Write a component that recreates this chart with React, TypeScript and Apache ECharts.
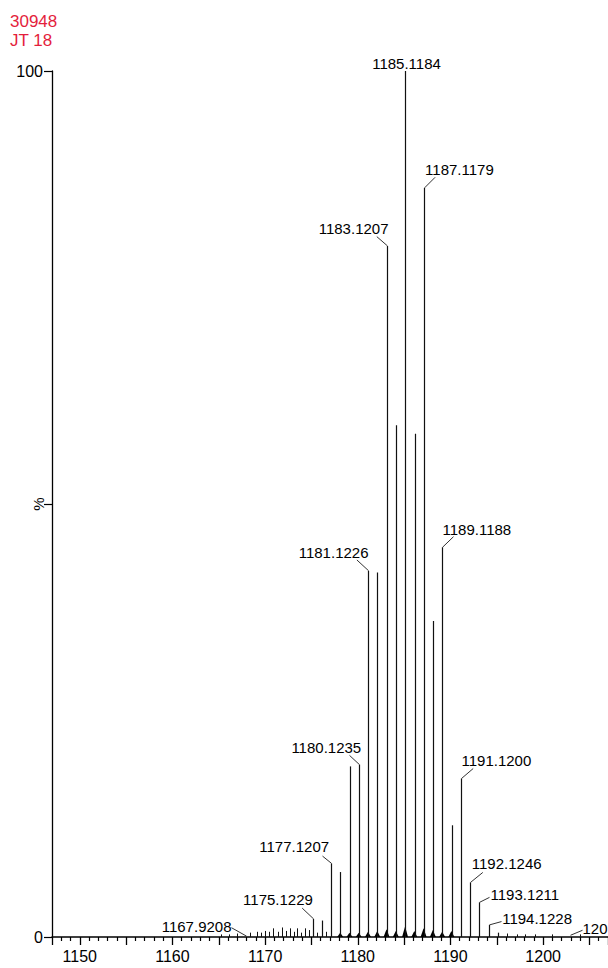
import React, { useEffect, useRef } from 'react';
import * as echarts from 'echarts';

// ---------- data ----------
const titleLines = ['30948', 'JT 18'];
const yAxisName = '%';

const peakMz = [
  1175.1229, 1176.1215, 1177.1207, 1178.1218, 1179.123, 1180.1235, 1181.1226, 1182.122,
  1183.1207, 1184.1201, 1185.1184, 1186.119, 1187.1179, 1188.1195, 1189.1188, 1190.1205,
  1191.12, 1192.1246, 1193.1211, 1194.1228, 1195.123,
];
const peakIntensity = [
  2.1, 1.9, 8.5, 7.5, 19.7, 19.9, 42.3, 42.1,
  79.8, 59.1, 100, 58.1, 86.5, 36.5, 45.0, 12.9,
  18.3, 6.3, 4.0, 1.4, 0.5,
];

// labelled peaks
const labelMz = [
  1167.9208, 1175.1229, 1177.1207, 1180.1235, 1181.1226, 1183.1207, 1185.1184,
  1187.1179, 1189.1188, 1191.12, 1192.1246, 1193.1211, 1194.1228, 1202.93,
];
const labelIntensity = [0.1, 2.1, 8.5, 19.9, 42.3, 79.8, 100, 86.5, 45.0, 18.3, 6.3, 4.0, 1.4, 0.2];
const labelText = [
  '1167.9208', '1175.1229', '1177.1207', '1180.1235', '1181.1226', '1183.1207', '1185.1184',
  '1187.1179', '1189.1188', '1191.1200', '1192.1246', '1193.1211', '1194.1228', '120',
];

// small noise sticks along the baseline
const noiseMz = [
  1165.2, 1166.1, 1167.0, 1168.4, 1169.1, 1169.5, 1170.0, 1170.4, 1170.9, 1171.4, 1171.8,
  1172.2, 1172.7, 1173.1, 1173.4, 1173.9, 1174.3, 1174.7, 1175.6, 1176.6, 1196.1, 1197.2,
  1198.0, 1199.1, 1201.0, 1204.0,
];
const noiseIntensity = [
  0.3, 0.3, 0.4, 0.5, 0.6, 0.5, 0.7, 0.6, 1.0, 0.6, 1.1,
  0.7, 1.0, 0.6, 1.0, 0.5, 1.0, 0.8, 0.5, 0.6, 0.4, 0.3,
  0.3, 0.3, 0.3, 0.3,
];

// small humps at the base of the main peaks
const bumpMz = [1178.1, 1179.1, 1180.1, 1181.1, 1182.1, 1183.1, 1184.1, 1185.1, 1186.1, 1187.1, 1188.1, 1189.1, 1190.1];
const bumpIntensity = [0.5, 0.5, 0.5, 0.6, 0.7, 0.9, 0.7, 1.2, 0.7, 1.0, 0.8, 0.6, 0.7];

const xMin = 1147;
const xMax = 1207;

// ---------- label layout (pixel offsets from peak top) ----------
type Layout = { lead: [number, number] | null; anchor: [number, number]; align: 'left' | 'right' | 'center' };
const labelLayout: Record<string, Layout> = {
  '1167.9208': { lead: [-15, -8.4], anchor: [-15, -9.4], align: 'right' },
  '1175.1229': { lead: [-11.3, -10.7], anchor: [-0.6, -19], align: 'right' },
  '1177.1207': { lead: [-9, -7.3], anchor: [-2.4, -16.6], align: 'right' },
  '1180.1235': { lead: [-10, -9.3], anchor: [1.7, -17.6], align: 'right' },
  '1181.1226': { lead: [-11.6, -10.7], anchor: [0, -18.2], align: 'right' },
  '1183.1207': { lead: [-10.7, -9.3], anchor: [1, -17.7], align: 'right' },
  '1185.1184': { lead: null, anchor: [1, -8], align: 'center' },
  '1187.1179': { lead: [10.6, -10.6], anchor: [0.6, -18.3], align: 'left' },
  '1189.1188': { lead: [11, -10.6], anchor: [0, -18.3], align: 'left' },
  '1191.1200': { lead: [11.7, -10], anchor: [0, -17.6], align: 'left' },
  '1192.1246': { lead: [12.3, -10], anchor: [1.3, -18.7], align: 'left' },
  '1193.1211': { lead: [10, -5], anchor: [11, -8.3], align: 'left' },
  '1194.1228': { lead: [12, -3.3], anchor: [12.7, -6.7], align: 'left' },
  '120': { lead: [12, -5], anchor: [12, -6.7], align: 'left' },
};

const FONT = '"Liberation Sans", Arial, Helvetica, sans-serif';
const RED = '#e41e3c';

export default function App() {
  const ref = useRef<HTMLDivElement>(null);

  useEffect(() => {
    const chart = echarts.init(ref.current!, null, { renderer: 'svg' });

    const option: any = {
      animation: false,
      backgroundColor: '#fff',
      grid: { left: 52, right: 0, top: 71, bottom: 31, containLabel: false, outerBoundsMode: 'none' },
      graphic: [
        ...titleLines.map((t, i) => ({
          type: 'text',
          left: 10,
          top: 13 + i * 19,
          style: { text: t, fill: RED, font: `17px ${FONT}` },
        })),
        {
          type: 'text',
          x: 38,
          y: 504,
          rotation: Math.PI / 2,
          style: { text: yAxisName, fill: '#000', font: `15px ${FONT}`, align: 'center', verticalAlign: 'middle' },
        },
      ],
      xAxis: {
        type: 'value',
        min: xMin,
        max: xMax,
        splitNumber: 12,
        minInterval: 5,
        maxInterval: 5,
        axisLine: { show: true, onZero: false, lineStyle: { color: '#000', width: 1.5 } },
        axisTick: { show: true, length: 8, lineStyle: { color: '#000', width: 1.3 } },
        minorTick: { show: true, splitNumber: 5, length: 4, lineStyle: { color: '#000', width: 1.2 } },
        axisLabel: {
          formatter: (v: number) => (Math.abs(v % 10) < 1e-6 ? String(v) : ''),
          fontSize: 16,
          color: '#000',
          fontFamily: FONT,
          margin: 11,
          showMinLabel: false,
          showMaxLabel: false,
        },
        splitLine: { show: false },
        minorSplitLine: { show: false },
      },
      yAxis: {
        type: 'value',
        min: 0,
        max: 100,
        interval: 50,
        axisLine: { show: true, lineStyle: { color: '#000', width: 1.3 } },
        axisTick: { show: true, length: 8, lineStyle: { color: '#000', width: 1.2 } },
        axisLabel: {
          formatter: (v: number) => (v === 50 ? '' : String(v)),
          fontSize: 16,
          color: '#000',
          fontFamily: FONT,
          margin: 9,
        },
        splitLine: { show: false },
      },
      series: [
        {
          type: 'custom',
          name: 'bumps',
          data: bumpMz.map((m, i) => [m, bumpIntensity[i]]),
          renderItem: (params: any, api: any) => {
            const top = api.coord([api.value(0), api.value(1)]);
            const base = api.coord([api.value(0), 0]);
            return {
              type: 'polygon',
              shape: { points: [[base[0] - 3, base[1]], [top[0], top[1]], [base[0] + 3, base[1]]] },
              style: { fill: '#000' },
            };
          },
        },
        {
          type: 'custom',
          name: 'noise',
          data: noiseMz.map((m, i) => [m, noiseIntensity[i]]),
          renderItem: (params: any, api: any) => {
            const top = api.coord([api.value(0), api.value(1)]);
            const base = api.coord([api.value(0), 0]);
            const x = Math.round(top[0]) + 0.5;
            return {
              type: 'line',
              shape: { x1: x, y1: top[1], x2: x, y2: base[1] },
              style: { stroke: '#111', lineWidth: 1 },
            };
          },
        },
        {
          type: 'custom',
          name: 'peaks',
          data: peakMz.map((m, i) => [m, peakIntensity[i]]),
          renderItem: (params: any, api: any) => {
            const top = api.coord([api.value(0), api.value(1)]);
            const base = api.coord([api.value(0), 0]);
            const x = Math.round(top[0]) + 0.5;
            return {
              type: 'line',
              shape: { x1: x, y1: top[1], x2: x, y2: base[1] },
              style: { stroke: '#111', lineWidth: 1.2 },
            };
          },
        },
        {
          type: 'custom',
          name: 'labels',
          data: labelMz.map((m, i) => [m, labelIntensity[i], i]),
          renderItem: (params: any, api: any) => {
            const idx = api.value(2);
            const text = labelText[idx];
            const lay = labelLayout[text];
            const top = api.coord([api.value(0), api.value(1)]);
            const px = Math.round(top[0]) + 0.5;
            const py = top[1];
            const children: any[] = [];
            if (lay.lead) {
              children.push({
                type: 'polyline',
                shape: { points: [[px, py], [px + lay.lead[0], py + lay.lead[1]]] },
                style: { stroke: '#333', lineWidth: 1, fill: null },
              });
            }
            children.push({
              type: 'text',
              style: {
                text,
                x: px + lay.anchor[0],
                y: py + lay.anchor[1],
                fill: '#000',
                font: `15px ${FONT}`,
                align: lay.align,
                verticalAlign: 'middle',
              },
            });
            return { type: 'group', children };
          },
        },
      ],
    };

    chart.setOption(option);
    return () => chart.dispose();
  }, []);

  return (
    <div
      ref={ref}
      style={{ position: 'absolute', left: 0, top: 0, width: 608, height: 968, background: '#fff' }}
    />
  );
}
